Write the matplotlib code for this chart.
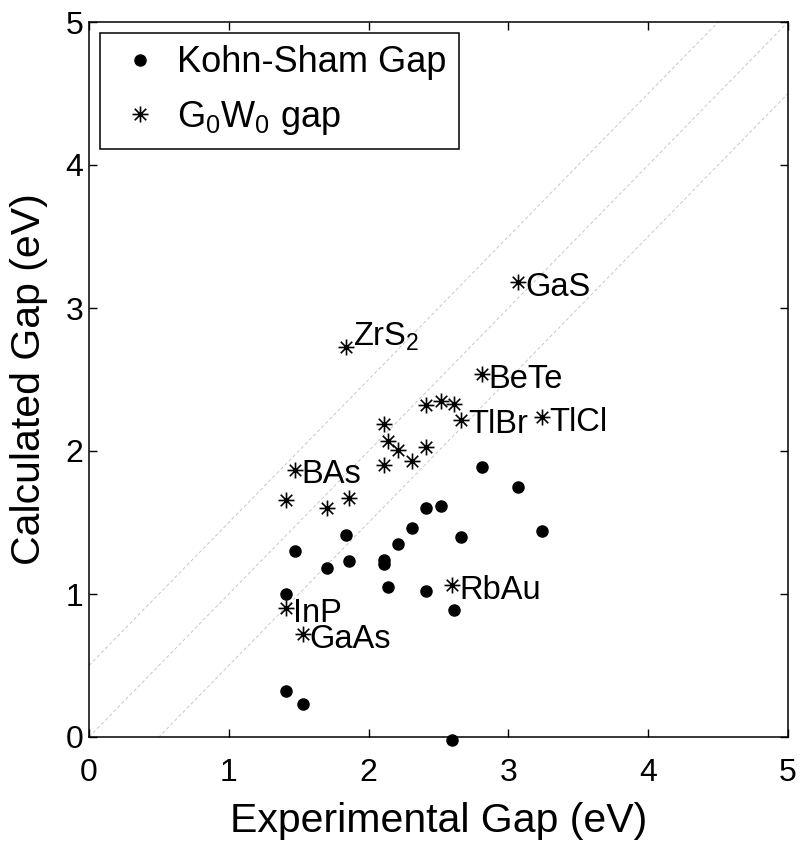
import matplotlib
matplotlib.use("Agg")
import matplotlib.pyplot as plt
from matplotlib.path import Path
import numpy as np

plt.rcParams['font.family'] = ['Liberation Sans', 'DejaVu Sans']
plt.rcParams['mathtext.fontset'] = 'custom'
plt.rcParams['mathtext.rm'] = 'Liberation Sans'
plt.rcParams['mathtext.it'] = 'Liberation Sans:italic'

# Data
materials = ["InP", "", "BAs", "GaAs", "", "ZrS$_2$", "", "", "", "", "",
             "", "", "", "", "RbAu", "", "TlBr", "BeTe", "GaS", "TlCl"]
exp_gap = [1.41, 1.41, 1.47, 1.53, 1.70, 1.84, 1.86, 2.11, 2.11, 2.14, 2.21,
           2.31, 2.41, 2.41, 2.52, 2.60, 2.61, 2.66, 2.81, 3.07, 3.24]
ks_gap = [0.32, 1.00, 1.30, 0.23, 1.18, 1.41, 1.23, 1.24, 1.21, 1.05, 1.35,
          1.46, 1.02, 1.60, 1.615, -0.02, 0.89, 1.40, 1.89, 1.75, 1.44]
gw_gap = [0.90, 1.66, 1.87, 0.72, 1.60, 2.73, 1.67, 2.19, 1.90, 2.07, 2.01,
          1.93, 2.03, 2.32, 2.35, 1.06, 2.33, 2.22, 2.54, 3.18, 2.24]
guide_offsets = [-0.5, 0.0, 0.5]
ticks = [0, 1, 2, 3, 4, 5]

fig = plt.figure(figsize=(8.0, 8.48), dpi=100)
ax = fig.add_axes([89/800, 1-737/848, (788-89)/800, (737-22)/848])

# guide lines
xx = np.array([0, 5])
for off in guide_offsets:
    ax.plot(xx, xx + off, color='#c0c0c0', lw=0.6, ls=(0, (4, 3)), zorder=1)

# asterisk marker (MATLAB-like)
ast = Path([(-1, 0), (1, 0), (0, -1), (0, 1),
            (-0.72, -0.72), (0.72, 0.72), (-0.72, 0.72), (0.72, -0.72)],
           [Path.MOVETO, Path.LINETO] * 4)

ks_line, = ax.plot(exp_gap, ks_gap, ls='none', marker='o', ms=8,
                   color='black', clip_on=False, zorder=3, label='Kohn-Sham Gap')
gw_line, = ax.plot(exp_gap, gw_gap, ls='none', marker=ast, ms=11.5,
                   mec='black', mfc='none', mew=1.2, zorder=3,
                   label='G$_0$W$_0$ gap')

for name, x, y in zip(materials, exp_gap, gw_gap):
    if not name:
        continue
    dy = 1 if name.startswith('Zr') else -10
    ax.annotate(name, (x, y), xytext=(5, dy), textcoords='offset points',
                ha='left', va='baseline', fontsize=23.5)

ax.set_xlim(0, 5)
ax.set_ylim(0, 5)
ax.set_xticks(ticks)
ax.set_yticks(ticks)
ax.tick_params(direction='in', length=6, width=1, top=True, right=True,
               labelsize=23)
ax.tick_params(axis='x', pad=15)
ax.tick_params(axis='y', pad=4)
for s in ax.spines.values():
    s.set_linewidth(1.1)

ax.set_xlabel('Experimental Gap (eV)', fontsize=29.5, labelpad=10)
ax.set_ylabel('Calculated Gap (eV)', fontsize=29.5, labelpad=13)

leg = ax.legend(handles=[ks_line, gw_line], loc='upper left', fontsize=26,
                frameon=True, fancybox=False, edgecolor='black', framealpha=1,
                borderaxespad=0.3, handletextpad=0.26, handlelength=1.52,
                borderpad=0.35, labelspacing=0.5)
leg.get_frame().set_linewidth(1.1)

fig.savefig('out.png', dpi=100)
